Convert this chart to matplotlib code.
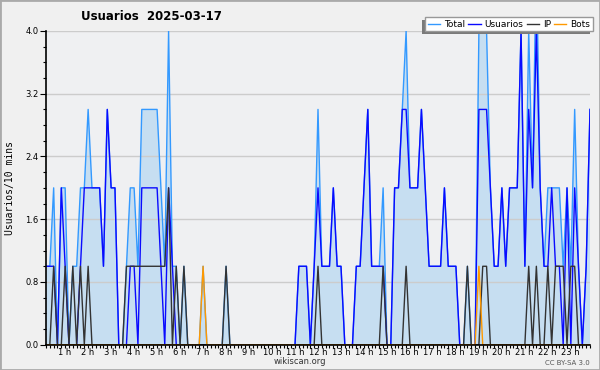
import numpy as np
import matplotlib
matplotlib.use('Agg')
import matplotlib.pyplot as plt
import matplotlib.transforms as mtransforms
from matplotlib.ticker import MultipleLocator
from matplotlib.patches import Rectangle

# editors per 10 minutes, 2025-03-17
total = [1, 1, 2, 0, 2, 2, 0, 1, 1, 2,
         2, 3, 2, 2, 2, 1, 3, 2, 2, 0,
         0, 1, 2, 2, 1, 3, 3, 3, 3, 3,
         2, 1, 4, 1, 1, 0, 1, 0, 0, 0,
         0, 1, 0, 0, 0, 0, 0, 1, 0, 0,
         0, 0, 0, 0, 0, 0, 0, 0, 0, 0,
         0, 0, 0, 0, 0, 0, 1, 1, 1, 0,
         1, 3, 1, 1, 1, 2, 1, 1, 0, 0,
         0, 1, 1, 2, 3, 1, 1, 1, 2, 0,
         0, 2, 2, 3, 4, 2, 2, 2, 3, 2,
         1, 1, 1, 1, 2, 1, 1, 1, 0, 0,
         1, 0, 0, 4, 4, 4, 2, 1, 1, 2,
         1, 2, 2, 2, 4, 1, 4, 2, 5, 2,
         1, 2, 2, 2, 2, 1, 2, 1, 3, 1,
         0, 1, 3]
usuarios = [1, 1, 1, 0, 2, 1, 0, 0, 0, 1,
            2, 2, 2, 2, 2, 1, 3, 2, 2, 0,
            0, 0, 1, 1, 0, 2, 2, 2, 2, 2,
            1, 0, 2, 1, 0, 0, 0, 0, 0, 0,
            0, 0, 0, 0, 0, 0, 0, 0, 0, 0,
            0, 0, 0, 0, 0, 0, 0, 0, 0, 0,
            0, 0, 0, 0, 0, 0, 1, 1, 1, 0,
            1, 2, 1, 1, 1, 2, 1, 1, 0, 0,
            0, 1, 1, 2, 3, 1, 1, 1, 1, 0,
            0, 2, 2, 3, 3, 2, 2, 2, 3, 2,
            1, 1, 1, 1, 2, 1, 1, 1, 0, 0,
            0, 0, 0, 3, 3, 3, 2, 1, 1, 2,
            1, 2, 2, 2, 4, 1, 3, 2, 4, 2,
            1, 1, 2, 1, 1, 0, 2, 0, 2, 1,
            0, 1, 3]
ip = [0, 0, 1, 0, 0, 1, 0, 1, 0, 1,
      0, 1, 0, 0, 0, 0, 0, 0, 0, 0,
      0, 1, 1, 1, 1, 1, 1, 1, 1, 1,
      1, 1, 2, 0, 1, 0, 1, 0, 0, 0,
      0, 0, 0, 0, 0, 0, 0, 1, 0, 0,
      0, 0, 0, 0, 0, 0, 0, 0, 0, 0,
      0, 0, 0, 0, 0, 0, 0, 0, 0, 0,
      0, 1, 0, 0, 0, 0, 0, 0, 0, 0,
      0, 0, 0, 0, 0, 0, 0, 0, 1, 0,
      0, 0, 0, 0, 1, 0, 0, 0, 0, 0,
      0, 0, 0, 0, 0, 0, 0, 0, 0, 0,
      1, 0, 0, 0, 1, 1, 0, 0, 0, 0,
      0, 0, 0, 0, 0, 0, 1, 0, 1, 0,
      0, 1, 0, 1, 1, 1, 0, 1, 1, 0,
      0, 0, 0]
bots = [0] * 41 + [1] + [0] * 71 + [1] + [0] * 29

hour_labels = ['%d h' % h for h in range(1, 24)]
y_ticks = [0.0, 0.8, 1.6, 2.4, 3.2, 4.0]

x = np.arange(len(total))

fig = plt.figure(figsize=(6, 3.7), dpi=100, facecolor='#f0f0f0')
ax = fig.add_axes([46/600, 1-344.7/370, 544/600, (344.7-31)/370])
ax.set_facecolor('#eff0f2')

ax.fill_between(x, 0, total, color='#c6def1', lw=0)
ax.plot(x, total, color='#3399ff', lw=1, label='Total')
ax.plot(x, usuarios, color='#0a0aff', lw=1, label='Usuarios')
ax.plot(x, ip, color='#333333', lw=1, label='IP')
ax.plot(x, bots, color='#ff9900', lw=1, label='Bots')

ax.set_xlim(0, len(total) - 1)
ax.set_ylim(0, 4)

ax.set_yticks(y_ticks)
ax.set_yticklabels(['%.1f' % v for v in y_ticks])
ax.yaxis.set_minor_locator(MultipleLocator(0.2))
ax.yaxis.grid(True, color='#cccccc', lw=1)

ax.set_xticks([6 * h for h in range(1, 24)])
ax.set_xticklabels(hour_labels)
ax.xaxis.set_minor_locator(MultipleLocator(1))

ax.tick_params(axis='x', which='both', length=2.2, width=0.8, pad=0.5,
               labelsize=6, colors='black')
ax.tick_params(axis='y', which='major', length=4.5, width=0.8, pad=1,
               labelsize=6)
ax.tick_params(axis='y', which='minor', length=2.5, width=0.8)

shift = mtransforms.ScaledTranslation(-4/100, 0, fig.dpi_scale_trans)
for lab in ax.get_xticklabels():
    lab.set_transform(lab.get_transform() + shift)

for s in ['top', 'right']:
    ax.spines[s].set_visible(False)
for s in ['left', 'bottom']:
    ax.spines[s].set_color('black')
    ax.spines[s].set_linewidth(1.2)
    ax.spines[s].set_zorder(10)

leg = ax.legend(loc='upper right', bbox_to_anchor=(593/600, 1-17/370),
                bbox_transform=fig.transFigure, ncol=4, fontsize=6.5,
                frameon=True, fancybox=False, shadow=False, framealpha=1,
                handlelength=1.35, handletextpad=0.45, columnspacing=0.35,
                borderpad=0.3, borderaxespad=0)
leg.get_frame().set_edgecolor('#999999')
leg.get_frame().set_linewidth(1)
leg.get_frame().set_facecolor('white')
leg.set_zorder(20)

fig.text(151/600, 1-16/370, 'Usuarios  2025-03-17', ha='center', va='center',
         fontsize=8.5, fontweight='bold')
fig.text(10/600, 1-188/370, 'Usuarios/10 mins', rotation=90, ha='center',
         va='center', fontsize=7, family='DejaVu Sans Mono')
fig.text(300/600, 1-361/370, 'wikiscan.org', ha='center', va='center',
         fontsize=6, color='#333333')
fig.text(590/600, 1-363/370, 'CC BY-SA 3.0', ha='right', va='center',
         fontsize=5, color='#555555')

fig.patches.append(Rectangle((0, 0), 1, 1, transform=fig.transFigure,
                             fill=False, edgecolor='#aaaaaa', lw=2))

# legend shadow, offset to the lower left like the original
fig.canvas.draw()
bb = leg.get_window_extent()
ax.add_patch(Rectangle((bb.x0 - 3, bb.y0 - 3), bb.width, bb.height,
                       transform=mtransforms.IdentityTransform(),
                       facecolor='#7a7a7a', edgecolor='none',
                       clip_on=False, zorder=19))

fig.savefig('out.png', dpi=100, facecolor=fig.get_facecolor())
